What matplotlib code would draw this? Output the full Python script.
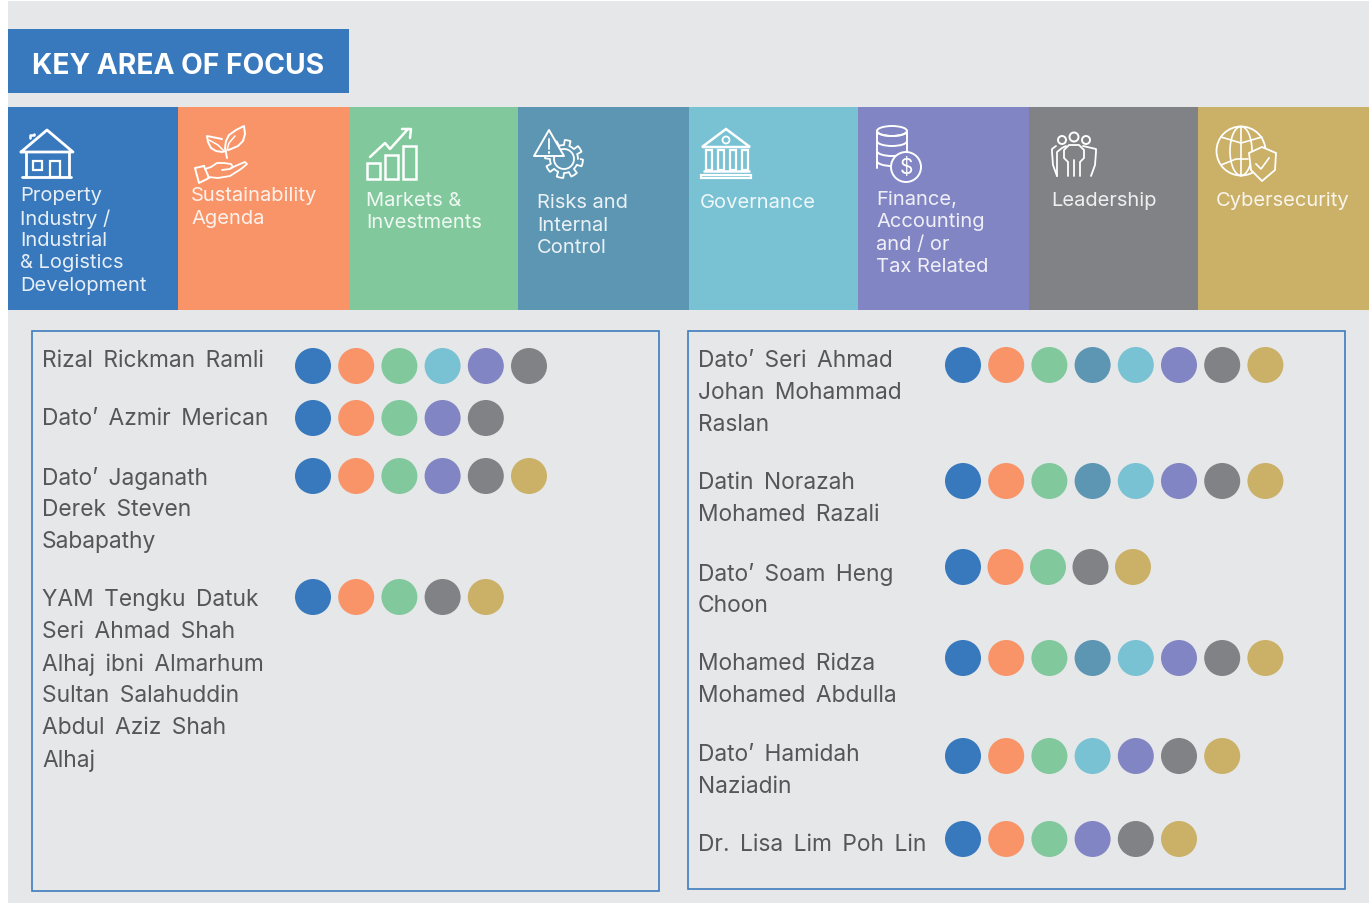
import matplotlib
matplotlib.use("Agg")
import matplotlib.pyplot as plt
import numpy as np
from matplotlib.patches import Circle, Rectangle, Polygon, Ellipse, Arc

FONT = "Inter"
BG = "#e6e7e9"
BORDER = "#3d7cbd"
INK = "#555658"

CATEGORIES = ["property", "sustainability", "markets", "risks", "governance", "finance", "leadership", "cyber"]
CAT_COLORS = ["#3878bc", "#f89468", "#81c99c", "#5d96b3", "#78c2d3", "#8285c3", "#808285", "#cbb067"]
CAT_EDGES = [8, 178, 350, 518, 689, 858, 1029, 1198, 1369]
CAT_TEXT_X = [20, 191, 366, 537, 700, 876, 1051, 1216]
CAT_LINES = [
    ["Property", "Industry /", "Industrial", "& Logistics", "Development"],
    ["Sustainability", "Agenda"],
    ["Markets &", "Investments"],
    ["Risks and", "Internal", "Control"],
    ["Governance"],
    ["Finance,", "Accounting", "and / or", "Tax Related"],
    ["Leadership"],
    ["Cybersecurity"],
]
CAT_TEXT_Y = [
    [195, 218, 240, 262, 285],
    [195, 218],
    [200, 222],
    [202, 225, 247],
    [202],
    [199, 221, 244, 266],
    [200],
    [200],
]

LEFT_NAMES = [
    ["Rizal Rickman Ramli"],
    ["Dato’ Azmir Merican"],
    ["Dato’ Jaganath", "Derek Steven", "Sabapathy"],
    ["YAM Tengku Datuk", "Seri Ahmad Shah", "Alhaj ibni Almarhum", "Sultan Salahuddin", "Abdul Aziz Shah", "Alhaj"],
]
LEFT_NAME_Y = [360, 418.5, 477.5, 599.5]
LEFT_DOT_Y = [366, 418, 476, 597]
LEFT_DOT_STEP = [43.2, 43.2, 43.2, 43.2]
LEFT_FOCUS = [
    ["property", "sustainability", "markets", "governance", "finance", "leadership"],
    ["property", "sustainability", "markets", "finance", "leadership"],
    ["property", "sustainability", "markets", "finance", "leadership", "cyber"],
    ["property", "sustainability", "markets", "leadership", "cyber"],
]

RIGHT_NAMES = [
    ["Dato’ Seri Ahmad", "Johan Mohammad", "Raslan"],
    ["Datin Norazah", "Mohamed Razali"],
    ["Dato’ Soam Heng", "Choon"],
    ["Mohamed Ridza", "Mohamed Abdulla"],
    ["Dato’ Hamidah", "Naziadin"],
    ["Dr. Lisa Lim Poh Lin"],
]
RIGHT_NAME_Y = [360.5, 482.5, 573.5, 663.5, 754.5, 844.5]
RIGHT_DOT_Y = [365, 481, 567, 658, 756, 839]
RIGHT_DOT_STEP = [43.2, 43.2, 42.5, 43.2, 43.2, 43.2]
RIGHT_FOCUS = [
    CATEGORIES,
    CATEGORIES,
    ["property", "sustainability", "markets", "leadership", "cyber"],
    CATEGORIES,
    ["property", "sustainability", "markets", "governance", "finance", "leadership", "cyber"],
    ["property", "sustainability", "markets", "finance", "leadership", "cyber"],
]


def line(ax, xs, ys, lw=1.6):
    ax.plot(xs, ys, color="white", lw=lw, solid_capstyle="round", solid_joinstyle="round", zorder=4)


def rect(ax, x, y, w, h, lw=1.6):
    ax.add_patch(Rectangle((x, y), w, h, fill=False, ec="white", lw=lw, zorder=4))


def circle(ax, x, y, r, lw=1.4, fc="none"):
    ax.add_patch(Circle((x, y), r, fc=fc, ec="white", lw=lw, zorder=4))


def icon_house(ax):
    line(ax, [21, 47, 73, 21], [152, 130, 152, 152], 2)
    line(ax, [30, 30, 34, 34], [138, 135, 135, 134], 1.8)
    line(ax, [26, 26], [152, 177], 2)
    line(ax, [69, 69], [152, 177], 2)
    line(ax, [22, 71], [177, 177], 2)
    rect(ax, 33, 161, 9, 9)
    rect(ax, 50, 161, 10, 16)


def icon_plant(ax):
    line(ax, [227, 225, 226, 229, 236, 244, 245, 243, 238, 231, 228], [158, 148, 141, 135, 130, 126, 134, 141, 146, 149, 150], 1.4)
    line(ax, [227, 229, 235], [150, 143, 136], 1.1)
    line(ax, [222, 207, 208, 211, 216, 222, 226], [139, 136, 142, 148, 151, 152, 151], 1.4)
    line(ax, [209, 218, 224], [140, 145, 151], 1.1)
    line(ax, [204, 195, 199, 209, 204], [166, 168, 183, 178, 166], 1.4)
    line(ax, [205, 211, 217, 224, 231, 233, 230, 222], [169, 167, 163, 163, 164, 167, 169, 170], 1.3)
    line(ax, [231, 240, 245, 247, 241, 230, 218, 208], [168, 164, 162, 164, 169, 176, 178, 177], 1.3)


def icon_chart(ax):
    line(ax, [370, 385, 390, 408], [157, 143, 149, 129], 1.8)
    line(ax, [402, 411, 410], [129, 129, 138], 1.8)
    rect(ax, 367, 163, 13, 16, 1.8)
    rect(ax, 385, 155, 13, 24, 1.8)
    rect(ax, 403, 146, 13, 33, 1.8)


def icon_risk(ax):
    theta = np.linspace(0, 2 * np.pi, 161)
    radius = 16.5 + 2.5 * np.sign(np.sin(8 * theta))
    line(ax, 564 + radius * np.cos(theta), 159 + radius * np.sin(theta), 1.3)
    circle(ax, 564, 159, 10, 1.3)
    ax.add_patch(Polygon([[534, 156], [549, 130], [564, 156]], closed=True, fc=CAT_COLORS[3], ec="white", lw=1.4, joinstyle="round", zorder=4))
    line(ax, [549, 549], [139, 149], 1.3)
    line(ax, [549, 549], [152, 152.5], 1.5)


def icon_bank(ax):
    ax.add_patch(Polygon([[702, 147], [726, 129], [750, 147]], closed=True, fill=False, ec="white", lw=1.8, zorder=4))
    circle(ax, 726, 140, 3.5, 1.3)
    for x in (705.5, 717.5, 729.5, 741.5):
        rect(ax, x, 150, 6, 20, 1.6)
    line(ax, [704, 749], [171, 171], 1.8)
    rect(ax, 701, 175, 50, 3, 1.6)


def icon_coins(ax):
    for y in (126, 136, 146, 156):
        ax.add_patch(Arc((892, y + 5), 30, 10, theta1=0, theta2=180, ec="white", lw=1.4, zorder=4))
    ax.add_patch(Ellipse((892, 131), 30, 10, fill=False, ec="white", lw=1.4, zorder=4))
    line(ax, [877, 877], [131, 168], 1.4)
    line(ax, [907, 907], [131, 152], 1.4)
    circle(ax, 906, 167, 15, 1.4, fc=CAT_COLORS[5])
    ax.text(906, 167, "$", color="white", fontsize=15, ha="center", va="center", family=FONT, zorder=5)


def icon_people(ax):
    for x, y, r in [(1062, 140, 4), (1074, 137, 4.5), (1086, 140, 4)]:
        circle(ax, x, y, r, 1.4)
    line(ax, [1057, 1053, 1052, 1052, 1056, 1056], [176, 165, 152, 149, 146, 146], 1.3)
    line(ax, [1057, 1057, 1062, 1066], [176, 152, 148, 146], 1.3)
    line(ax, [1091, 1095, 1096, 1096, 1083], [176, 165, 152, 149, 146], 1.3)
    line(ax, [1068, 1068, 1064, 1064, 1069, 1079, 1084, 1084, 1080, 1080], [176, 162, 158, 150, 145, 145, 150, 158, 162, 176], 1.3)
    line(ax, [1074, 1074], [160, 176], 1.3)


def icon_globe(ax):
    circle(ax, 1241, 151, 24.5, 1.3)
    ax.add_patch(Ellipse((1241, 151), 22, 49, fill=False, ec="white", lw=1.2, zorder=4))
    line(ax, [1221, 1241, 1262], [137, 143, 137], 1.2)
    line(ax, [1221, 1236, 1248], [165, 159, 159], 1.2)
    line(ax, [1241, 1241], [127, 176], 1.2)
    shield = [[1249, 153], [1262, 147], [1276, 153], [1275, 170], [1262, 181], [1251, 170]]
    ax.add_patch(Polygon(shield, closed=True, fc=CAT_COLORS[7], ec="white", lw=1.3, zorder=4.5))
    ax.plot([1256, 1261, 1269], [164, 169, 158], color="white", lw=1.2, zorder=5)


def draw_rows(ax, names, name_y, dot_y, dot_step, focus, text_x, dot_x):
    for lines, y_text, y_dot, step, keys in zip(names, name_y, dot_y, dot_step, focus, strict=True):
        for i, text in enumerate(lines):
            ax.text(text_x, y_text + i * 32, text.replace(" ", " \u2009"), color=INK, fontsize=16.4, family=FONT,
                    ha="left", va="center")
        for i, key in enumerate(keys):
            color = CAT_COLORS[CATEGORIES.index(key)]
            ax.add_patch(Circle((dot_x + i * step, y_dot), 18, fc=color, ec="none", zorder=3))


figure = plt.figure(figsize=(13.71, 9.04), dpi=100, facecolor="white")
ax = figure.add_axes([0, 0, 1, 1])
ax.set_xlim(0, 1371)
ax.set_ylim(903, -1)
ax.axis("off")

ax.add_patch(Rectangle((8, 1), 1361, 904, fc=BG, ec="none", zorder=0))
ax.add_patch(Rectangle((8, 29), 341, 64, fc=CAT_COLORS[0], ec="none", zorder=1))
ax.text(32, 66, "KEY AREA OF FOCUS", color="white", fontsize=20.3, fontweight="bold", family=FONT, ha="left", va="center", zorder=2)

for i, color in enumerate(CAT_COLORS):
    ax.add_patch(Rectangle((CAT_EDGES[i], 107), CAT_EDGES[i + 1] - CAT_EDGES[i], 203, fc=color, ec="none", zorder=1))
    for text, y in zip(CAT_LINES[i], CAT_TEXT_Y[i], strict=True):
        ax.text(CAT_TEXT_X[i], y, text, color="white", alpha=0.88, fontsize=14.5, family=FONT,
                ha="left", va="center", zorder=2)

for draw_icon in (icon_house, icon_plant, icon_chart, icon_risk, icon_bank, icon_coins, icon_people, icon_globe):
    draw_icon(ax)

ax.add_patch(Rectangle((31.5, 331), 627.5, 560, fill=False, ec=BORDER, lw=1.2, zorder=2))
ax.add_patch(Rectangle((687.5, 331), 657.5, 558, fill=False, ec=BORDER, lw=1.2, zorder=2))

draw_rows(ax, LEFT_NAMES, LEFT_NAME_Y, LEFT_DOT_Y, LEFT_DOT_STEP, LEFT_FOCUS, 42, 313)
draw_rows(ax, RIGHT_NAMES, RIGHT_NAME_Y, RIGHT_DOT_Y, RIGHT_DOT_STEP, RIGHT_FOCUS, 698, 963)

figure.savefig("out.png", dpi=100)
